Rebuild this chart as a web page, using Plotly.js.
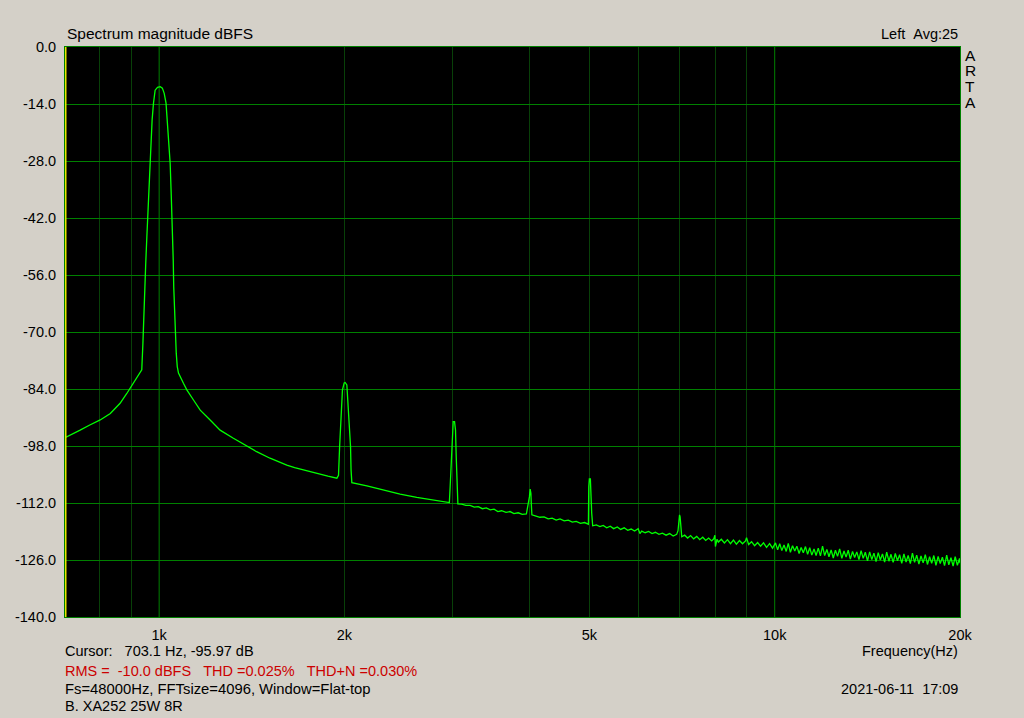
<!DOCTYPE html>
<html>
<head>
<meta charset="utf-8">
<script src="https://cdn.plot.ly/plotly-3.0.1.min.js"></script>
<style>
  html, body { margin: 0; padding: 0; background: #D4D0C8; }
  #chart { width: 1024px; height: 718px; }
</style>
</head>
<body>
<div id="chart"></div>
<script>
// ---------- DATA ----------
// Fundamental (1 kHz) with its skirts, 703 Hz .. 1.94 kHz
const fundFreq = [703.1,720,744,770,802,833,864,886,897,914,937,941,943,946,951,955,959,962,966,969,974,979,985,994,1004,1012,1019,1026,1031,1037,1042,1046,1050,1054,1056,1059,1062,1066,1070,1075,1095,1109,1137,1166,1210,1256,1320,1388,1440,1514,1550,1612,1660,1716,1770,1826,1880,1944];
const fundDb   = [-95.97,-95.1,-94.1,-92.9,-91.6,-90.0,-87.5,-85.1,-83.8,-81.8,-79.3,-72.8,-67.9,-60.5,-53.1,-46.6,-40.0,-33.5,-27.8,-22.8,-17.9,-13.8,-10.6,-9.9,-9.75,-10.1,-11.4,-13.8,-17.9,-22.8,-28.6,-35.9,-42.5,-52.3,-58.9,-65.4,-71.2,-75.2,-78.5,-80.1,-82.6,-84.2,-86.7,-89.2,-91.6,-94.1,-96.1,-98.0,-99.4,-101.0,-101.7,-102.7,-103.3,-103.9,-104.4,-104.9,-105.4,-105.9];

// 2nd and 3rd harmonics, 1.95 kHz .. 3.06 kHz
const lowFreq = [1956,1964,1975,1985,1998,2005,2018,2025,2037,2046,2050,2056,2175,2314,2463,2621,2790,2951,2961,2969,2985,2996,3004,3019,3030,3038,3050,3057];
const lowDb   = [-105.2,-98.2,-90.4,-84.2,-82.5,-82.4,-83.0,-86.2,-92.0,-98.2,-103.9,-107.0,-107.8,-108.8,-109.8,-110.6,-111.3,-111.8,-111.9,-108.4,-100.6,-93.6,-92.0,-92.0,-94.1,-100.6,-108.0,-112.2];

// Noise floor with 4th, 5th and 7th harmonics, 3.1 kHz .. 7.06 kHz
const midFreq = [3100,3150,3200,3250,3300,3350,3400,3450,3500,3550,3600,3660,3715,3770,3830,3890,3950,3985,3995,4006,4017,4024,4032,4095,4155,4220,4285,4350,4415,4480,4550,4620,4690,4760,4835,4910,4981,4988,4999,5018,5025,5043,5062,5130,5200,5265,5335,5405,5475,5550,5620,5695,5770,5845,5920,6000,6040,6080,6160,6240,6320,6400,6485,6570,6660,6750,6840,6930,6965,6990,7005,7020,7040,7063];
const midDb   = [-112.3,-112.6,-112.6,-113.0,-112.9,-113.4,-113.2,-113.7,-113.5,-114.1,-113.9,-114.3,-114.1,-114.6,-114.4,-114.8,-114.7,-112.0,-110.5,-108.6,-109.6,-112.5,-114.9,-115.2,-115.5,-115.4,-115.9,-115.7,-116.2,-115.9,-116.4,-116.2,-116.7,-116.5,-117.0,-116.8,-117.2,-108.0,-106.1,-106.1,-110.0,-114.5,-117.6,-117.4,-117.8,-117.5,-118.1,-117.7,-118.3,-117.9,-118.5,-118.1,-118.7,-118.4,-118.9,-118.3,-119.5,-118.9,-119.3,-119.0,-119.5,-119.2,-119.7,-119.4,-119.9,-119.5,-120.1,-119.7,-118.8,-117.0,-114.9,-115.4,-118.3,-120.3];

// Noise floor, 7.1 kHz .. 10 kHz
const hiFreq = [7140,7220,7300,7385,7470,7555,7640,7725,7810,7900,7960,7995,8010,8060,8100,8190,8285,8380,8475,8570,8665,8765,8865,8965,9000,9070,9170,9275,9380,9485,9590,9700,9810,9920];
const hiDb   = [-119.9,-120.6,-120.0,-120.8,-120.2,-121.0,-120.4,-121.2,-120.6,-121.3,-120.8,-119.9,-122.7,-120.9,-121.6,-120.9,-121.8,-121.0,-122.0,-121.1,-122.1,-121.2,-122.0,-121.3,-120.5,-122.2,-121.5,-122.5,-121.7,-122.6,-121.8,-122.9,-122.0,-123.1];

// Noise floor, 10 kHz .. 20 kHz
const topFreq = [10030,10110,10190,10270,10355,10440,10520,10605,10690,10780,10865,10955,11040,11130,11220,11310,11400,11490,11585,11675,11770,11865,11960,12055,12155,12250,12350,12450,12550,12650,12750,12855,12960,13060,13165,13270,13380,13485,13595,13705,13815,13925,14035,14150,14265,14380,14495,14610,14730,14845,14965,15085,15205,15330,15450,15575,15700,15830,15955,16085,16215,16345,16475,16610,16740,16875,17010,17150,17285,17425,17565,17705,17850,17990,18135,18280,18430,18575,18725,18875,19030,19180,19335,19490,19645,19805,19965,20000];
const topDb   = [-121.8,-123.5,-122.0,-123.7,-122.3,-123.9,-121.9,-124.1,-122.5,-123.8,-122.6,-124.4,-122.9,-124.2,-122.7,-124.6,-123.0,-124.8,-123.3,-124.9,-123.1,-125.0,-122.6,-124.9,-123.4,-125.2,-123.5,-125.5,-123.6,-125.1,-123.3,-125.6,-123.8,-125.3,-123.6,-125.8,-123.9,-125.4,-124.0,-125.9,-123.7,-125.6,-124.1,-126.2,-124.0,-125.9,-124.3,-126.4,-124.2,-126.0,-124.5,-126.5,-124.1,-126.3,-124.6,-126.6,-124.4,-126.2,-124.7,-126.8,-124.5,-126.5,-124.9,-126.9,-124.3,-126.6,-124.8,-127.0,-125.0,-126.7,-124.7,-127.1,-125.2,-126.8,-124.9,-127.3,-125.1,-126.9,-125.3,-127.4,-124.8,-127.2,-125.4,-127.5,-125.2,-127.3,-125.6,-126.8];

// Axis ticks
const xTickVals = [1000, 2000, 5000, 10000, 20000];
const xTickText = ['1k', '2k', '5k', '10k', '20k'];
const xMinorGrid = [800, 900, 2000, 3000, 4000, 5000, 6000, 7000, 8000, 9000];
const xMajorGrid = [1000, 10000];
const yTickVals = [0, -14, -28, -42, -56, -70, -84, -98, -112, -126, -140];
const yTickText = ['0.0', '-14.0', '-28.0', '-42.0', '-56.0', '-70.0', '-84.0', '-98.0', '-112.0', '-126.0', '-140.0'];
const xRangeHz = [703.1, 20000];
const yRangeDb = [-140, 0];
const cursorHz = 703.1;

// ---------- LAYOUT ----------
const W = 1024, H = 718;
const PL = 65, PR = 960, PT = 47, PB = 617;
const px = x => (x - PL) / (PR - PL);
const py = y => (PB - y) / (PB - PT);

const FONT = 'Liberation Sans, Arial, sans-serif';
const FS = 14.5;

const freq = [].concat(fundFreq, lowFreq, midFreq, hiFreq, topFreq);
const db = [].concat(fundDb, lowDb, midDb, hiDb, topDb);

const traces = [{
  x: freq, y: db, type: 'scatter', mode: 'lines',
  line: { color: '#00FF00', width: 1.3 },
  hoverinfo: 'skip', showlegend: false
}];

const shapes = [];
xMajorGrid.forEach(f => shapes.push({
  type: 'line', xref: 'x', yref: 'paper', x0: f, x1: f, y0: 0, y1: 1,
  line: { color: '#008000', width: 1 }, layer: 'below'
}));
shapes.push({
  type: 'line', xref: 'x', yref: 'paper', x0: cursorHz, x1: cursorHz, y0: 0, y1: 1,
  line: { color: '#E8E800', width: 3 }, layer: 'above'
});

function ann(text, x, y, anchor, color, size) {
  return {
    text: text, xref: 'paper', yref: 'paper', x: px(x), y: py(y),
    xanchor: anchor, yanchor: 'middle', showarrow: false, borderpad: 0,
    font: { family: FONT, size: size || FS, color: color || '#000000' }
  };
}
const NB = '\u00A0';
const annotations = [
  ann('Spectrum magnitude dBFS', 66, 34, 'left', null, 15.5),
  ann('Left' + NB + NB + 'Avg:25', 959, 34, 'right'),
  ann('A', 970, 55, 'center', null, 15.5),
  ann('R', 970, 70, 'center', null, 15.5),
  ann('T', 970, 86, 'center', null, 15.5),
  ann('A', 970, 103, 'center', null, 15.5),
  ann('Cursor:' + NB + NB + NB + '703.1 Hz, -95.97 dB', 64, 651, 'left'),
  ann('Frequency(Hz)', 959, 651, 'right'),
  ann('RMS =' + NB + NB + '-10.0 dBFS' + NB + NB + NB + 'THD =0.025%' + NB + NB + NB + 'THD+N =0.030%', 64, 670.5, 'left', '#CC0000'),
  ann('Fs=48000Hz, FFTsize=4096, Window=Flat-top', 64, 689, 'left', null, 14.8),
  ann('2021-06-11' + NB + NB + '17:09', 959, 688.5, 'right'),
  ann('B. XA252 25W 8R', 64, 705.5, 'left')
];

const layout = {
  width: W, height: H,
  margin: { l: PL, r: W - PR, t: PT, b: H - PB, pad: 0 },
  paper_bgcolor: '#D4D0C8',
  plot_bgcolor: '#000000',
  showlegend: false,
  hovermode: false,
  font: { family: FONT, size: FS, color: '#000000' },
  xaxis: {
    type: 'log',
    range: [Math.log10(xRangeHz[0]), Math.log10(xRangeHz[1])],
    tickmode: 'array', tickvals: xTickVals, ticktext: xTickText,
    ticks: '', showgrid: false, zeroline: false,
    showline: true, mirror: true, linecolor: '#008000', linewidth: 1,
    ticklabelstandoff: 5,
    tickfont: { family: FONT, size: FS, color: '#000000' },
    minor: { tickmode: 'array', tickvals: xMinorGrid, showgrid: true, gridcolor: '#084008', gridwidth: 1, ticks: '' }
  },
  yaxis: {
    range: yRangeDb,
    tickmode: 'array', tickvals: yTickVals, ticktext: yTickText,
    ticks: '', showgrid: true, gridcolor: '#008000', gridwidth: 1, zeroline: false,
    showline: true, mirror: true, linecolor: '#008000', linewidth: 1,
    ticklabelstandoff: 5,
    tickfont: { family: FONT, size: FS, color: '#000000' }
  },
  shapes: shapes,
  annotations: annotations
};

Plotly.newPlot('chart', traces, layout, { staticPlot: true, displayModeBar: false });
</script>
</body>
</html>
